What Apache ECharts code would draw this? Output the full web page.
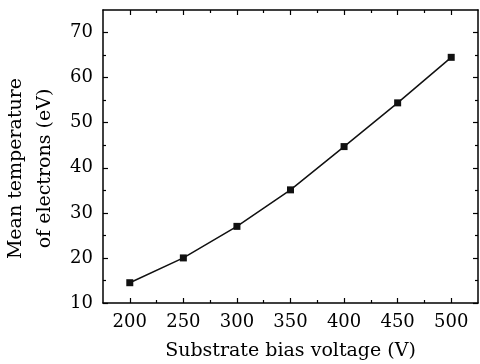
<!DOCTYPE html>
<html><head><meta charset="utf-8">
<script src="https://cdn.jsdelivr.net/npm/echarts@6/dist/echarts.min.js"></script>
<style>html,body{margin:0;padding:0;background:#fff}#c{width:480px;height:364px}</style>
</head><body><div id="c"></div>
<script>
const voltages = [200, 250, 300, 350, 400, 450, 500];
const temperatures = [14.5, 20.0, 27.0, 35.1, 44.7, 54.4, 64.5];
const xMajorTicks = [200, 250, 300, 350, 400, 450, 500];
const xMinorTicks = [225, 275, 325, 375, 425, 475];
const yMajorTicks = [10, 20, 30, 40, 50, 60, 70];
const yMinorTicks = [15, 25, 35, 45, 55, 65];

const FONT = 'DejaVu Serif';
const lineStyle = {color: '#000', width: 1.5};
function xAx(pos, ticks, len, showLine, showLabel, extra) {
  return Object.assign({
    type: 'value', position: pos, min: 175, max: 525,
    axisLine: {show: showLine, onZero: false, lineStyle: lineStyle},
    axisTick: {show: true, inside: true, length: len, customValues: ticks, lineStyle: {color: '#000', width: 1.2}},
    axisLabel: {show: showLabel, customValues: ticks, color: '#000', fontFamily: FONT, fontSize: 18, margin: 10},
    splitLine: {show: false}
  }, extra || {});
}
function yAx(pos, ticks, len, showLine, showLabel, extra) {
  return Object.assign({
    type: 'value', position: pos, min: 10, max: 75,
    axisLine: {show: showLine, onZero: false, lineStyle: lineStyle},
    axisTick: {show: true, inside: true, length: len, customValues: ticks, lineStyle: {color: '#000', width: 1.2}},
    axisLabel: {show: showLabel, customValues: ticks, color: '#000', fontFamily: FONT, fontSize: 18, margin: 10},
    splitLine: {show: false}
  }, extra || {});
}
const chart = echarts.init(document.getElementById('c'), null, {renderer: 'canvas'});
chart.setOption({
  animation: false,
  backgroundColor: '#fff',
  grid: {left: 103, right: 2, top: 10, bottom: 61, containLabel: false, outerBoundsMode: 'none'},
  xAxis: [
    xAx('bottom', xMajorTicks, 5, true, true, {
      name: 'Substrate bias voltage (V)', nameLocation: 'middle', nameGap: 39,
      nameTextStyle: {color: '#000', fontFamily: FONT, fontSize: 19}
    }),
    xAx('bottom', xMinorTicks, 3, false, false),
    xAx('top', xMajorTicks, 5, true, false),
    xAx('top', xMinorTicks, 3, false, false)
  ],
  yAxis: [
    yAx('left', yMajorTicks, 5, true, true, {
      name: 'Mean temperature\nof electrons (eV)', nameLocation: 'middle', nameGap: 38, nameRotate: 90,
      nameTextStyle: {color: '#000', fontFamily: FONT, fontSize: 19, lineHeight: 29, padding: [0, 24, 0, 0]}
    }),
    yAx('left', yMinorTicks, 3, false, false),
    yAx('right', yMajorTicks, 5, true, false),
    yAx('right', yMinorTicks, 3, false, false)
  ],
  series: [{
    type: 'line', xAxisIndex: 0, yAxisIndex: 0,
    data: voltages.map((v, i) => [v, temperatures[i]]),
    symbol: 'rect', symbolSize: 7,
    itemStyle: {color: '#111'},
    lineStyle: {color: '#111', width: 1.5}
  }]
});
</script></body></html>
